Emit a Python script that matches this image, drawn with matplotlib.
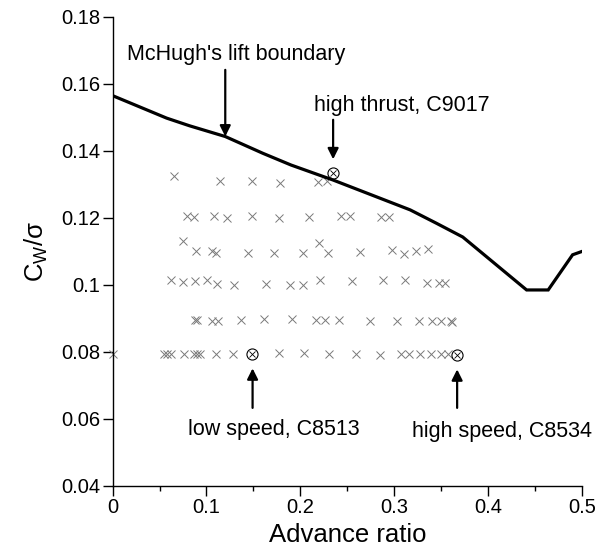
import matplotlib
matplotlib.use("Agg")
import matplotlib.pyplot as plt
from matplotlib.ticker import MultipleLocator, FuncFormatter

plt.rcParams['font.family'] = ['Liberation Sans', 'DejaVu Sans']
plt.rcParams['mathtext.fontset'] = 'custom'
plt.rcParams['mathtext.rm'] = 'Liberation Sans'

# McHugh's lift boundary
boundary_mu = [0, 0.0575, 0.082, 0.12, 0.16, 0.19, 0.235, 0.317, 0.345, 0.373,
               0.441, 0.464, 0.49, 0.5]
boundary_cw = [0.1565, 0.1498, 0.1475, 0.1443, 0.1393, 0.1358, 0.1313, 0.1224,
               0.1184, 0.1143, 0.0985, 0.0985, 0.109, 0.110]

# test points (advance ratio, C_W/sigma)
test_mu = [
    0.0653, 0.1143, 0.1487, 0.178, 0.219, 0.228,
    0.0788, 0.0869, 0.1075, 0.122, 0.1483, 0.1771, 0.2095, 0.2428, 0.2527, 0.2854, 0.2946,
    0.0752, 0.0884, 0.1058, 0.110, 0.1444, 0.1721, 0.203, 0.220, 0.2296, 0.2634, 0.2971,
    0.310, 0.323, 0.336,
    0.0617, 0.0745, 0.0873, 0.1008, 0.1111, 0.1292, 0.163, 0.1888, 0.203, 0.2208, 0.2545,
    0.2882, 0.311, 0.3344, 0.3478, 0.3539,
    0.0876, 0.0901, 0.1054, 0.1125, 0.1363, 0.1611, 0.1913, 0.2165, 0.2261, 0.2413, 0.2747,
    0.3031, 0.3262, 0.3397, 0.3493, 0.3603, 0.3615,
    0.0, 0.0546, 0.0575, 0.0621, 0.0756, 0.0869, 0.0901, 0.093, 0.1097, 0.1285, 0.1771,
    0.2044, 0.2307, 0.2591, 0.2847, 0.307, 0.3159, 0.3273, 0.3387, 0.3493, 0.3574,
]
test_cw = [
    0.1326, 0.1310, 0.1310, 0.1304, 0.1308, 0.1310,
    0.1206, 0.1203, 0.1206, 0.1200, 0.1206, 0.1199, 0.1203, 0.1206, 0.1206, 0.1203, 0.1203,
    0.1132, 0.1102, 0.1102, 0.1095, 0.1094, 0.1094, 0.1096, 0.1124, 0.1096, 0.1097, 0.1104,
    0.1092, 0.1101, 0.1107,
    0.1015, 0.1008, 0.1013, 0.1016, 0.1004, 0.1001, 0.1003, 0.1001, 0.1001, 0.1015, 0.1013,
    0.1015, 0.1016, 0.1007, 0.1005, 0.1006,
    0.0895, 0.0896, 0.0893, 0.0893, 0.0895, 0.0898, 0.0897, 0.0894, 0.0894, 0.0895, 0.0893,
    0.0893, 0.0893, 0.0893, 0.0893, 0.0892, 0.0890,
    0.0794, 0.0794, 0.0794, 0.0794, 0.0793, 0.0794, 0.0793, 0.0793, 0.0793, 0.0793, 0.0798,
    0.0797, 0.0793, 0.0793, 0.0792, 0.0794, 0.0793, 0.0795, 0.0795, 0.0795, 0.0793,
]

# highlighted cases
case_mu = [0.1487, 0.2349, 0.367]
case_cw = [0.0793, 0.1335, 0.0790]
case_labels = ["low speed, C8513", "high thrust, C9017", "high speed, C8534"]

fig = plt.figure(figsize=(5.99, 5.46), dpi=100)
ax = fig.add_axes([0.188, 0.110, 0.7836, 0.859])

ax.plot(boundary_mu, boundary_cw, color='black', lw=2.3, solid_joinstyle='miter', zorder=3)
ax.plot(test_mu, test_cw, linestyle='none', marker='x', ms=5.5, mew=0.7,
        color='#7a7a7a', clip_on=False, zorder=2)
ax.plot(case_mu, case_cw, linestyle='none', marker='o', ms=8, mfc='none', mec='black',
        mew=0.8, zorder=4)
ax.plot(case_mu, case_cw, linestyle='none', marker='x', ms=4.5, mec='black', mew=0.6,
        zorder=4)

arrow = dict(arrowstyle='-|>', color='black', lw=1.6, mutation_scale=16,
             shrinkA=0, shrinkB=0)

# boundary label
ax.text(0.0155, 0.1672, "McHugh's lift boundary", fontsize=15.5, ha='left', va='baseline')
ax.annotate('', xy=(0.12, 0.1443), xytext=(0.12, 0.1642), arrowprops=arrow)

# high thrust
ax.text(0.2145, 0.1519, case_labels[1], fontsize=15.5, ha='left', va='baseline')
ax.annotate('', xy=(0.2349, 0.1375), xytext=(0.2349, 0.1493), arrowprops=arrow)

# low speed
ax.text(0.0807, 0.0552, case_labels[0], fontsize=15.5, ha='left', va='baseline')
ax.annotate('', xy=(0.1491, 0.0751), xytext=(0.1491, 0.0633), arrowprops=arrow)

# high speed
ax.text(0.3186, 0.0546, case_labels[2], fontsize=15.5, ha='left', va='baseline',
        clip_on=False)
ax.annotate('', xy=(0.367, 0.0748), xytext=(0.367, 0.0633), arrowprops=arrow)

ax.set_xlim(0, 0.5)
ax.set_ylim(0.04, 0.18)
ax.xaxis.set_major_locator(MultipleLocator(0.1))
ax.xaxis.set_minor_locator(MultipleLocator(0.05))
ax.yaxis.set_major_locator(MultipleLocator(0.02))
ax.xaxis.set_major_formatter(FuncFormatter(lambda v, p: '%g' % round(v, 3)))
ax.yaxis.set_major_formatter(FuncFormatter(lambda v, p: '%g' % round(v, 3)))
ax.tick_params(axis='both', which='major', direction='out', length=7, width=1,
               labelsize=14.5, pad=2)
ax.tick_params(axis='x', which='minor', direction='out', length=3.5, width=1)

ax.spines['top'].set_visible(False)
ax.spines['right'].set_visible(False)
ax.spines['left'].set_linewidth(1)
ax.spines['bottom'].set_linewidth(1)

ax.set_xlabel('Advance ratio', fontsize=18.5, labelpad=4)
ax.set_ylabel('C$_\\mathregular{W}$/σ', fontsize=18.5, labelpad=8)

fig.savefig('out.png', dpi=100)
